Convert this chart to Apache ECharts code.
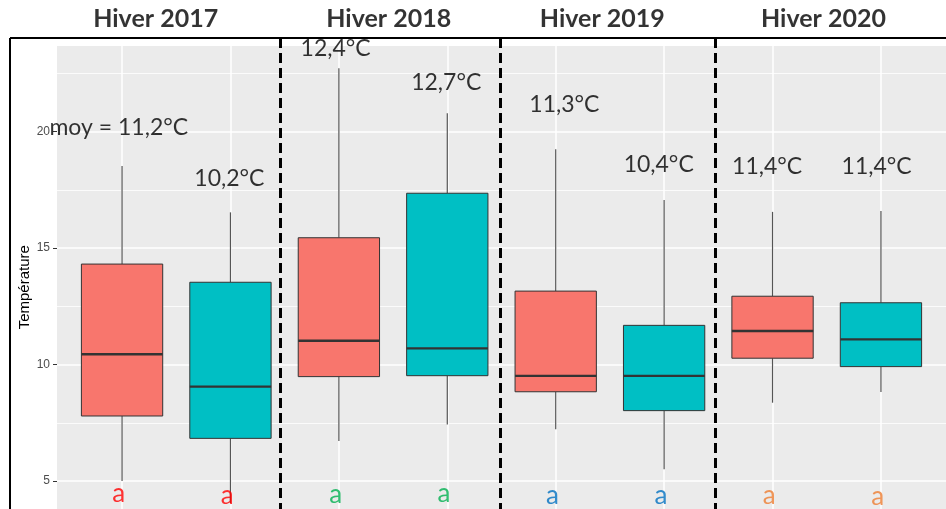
<!DOCTYPE html>
<html>
<head>
<meta charset="utf-8">
<script src="https://cdn.jsdelivr.net/npm/echarts@6/dist/echarts.min.js"></script>
<style>
html, body { margin: 0; padding: 0; background: #fff; overflow: hidden; }
#main { width: 946px; height: 600px; }
</style>
</head>
<body>
<div id="main"></div>
<script>
// deux boîtes par hiver (groupe 0 = saumon, groupe 1 = turquoise)
var categories = ['2017 A', '2017 B', '2018 A', '2018 B', '2019 A', '2019 B', '2020 A', '2020 B'];
var groups = [0, 1, 0, 1, 0, 1, 0, 1];
var mins = [5.0, 4.05, 6.72, 7.43, 7.22, 5.50, 8.36, 8.82];
var q1s = [7.79, 6.83, 9.48, 9.52, 8.83, 8.02, 10.27, 9.91];
var medians = [10.44, 9.05, 11.02, 10.69, 9.51, 9.51, 11.44, 11.08];
var q3s = [14.31, 13.53, 15.44, 17.35, 13.15, 11.68, 12.93, 12.65];
var maxs = [18.52, 16.53, 22.71, 20.78, 19.24, 17.06, 16.55, 16.59];

var yTicks = [5, 10, 15, 20];

// titres des hivers
var winters = ['Hiver 2017', 'Hiver 2018', 'Hiver 2019', 'Hiver 2020'];
var winterX = [0.31, 2.46, 4.43, 6.47];
var winterY = 24.83;

// moyennes écrites au-dessus des boîtes
var meanTexts = ['moy = 11,2°C', '10,2°C', '12,4°C', '12,7°C', '11,3°C', '10,4°C', '11,4°C', '11,4°C'];
var meanX = [-0.03, 0.99, 1.97, 2.99, 4.08, 4.95, 5.95, 6.96];
var meanY = [20.15, 18.0, 23.54, 22.08, 21.14, 18.56, 18.48, 18.48];

// lettres de groupes statistiques
var letters = ['a', 'a', 'a', 'a', 'a', 'a', 'a', 'a'];
var letterY = [4.48, 4.36, 4.40, 4.48, 4.36, 4.36, 4.36, 4.31];

// séparations entre hivers
var separators = [1.46, 3.49, 5.47];

var boxFills = ['#F8766D', '#00BFC4'];
var letterColors = ['#FF0000', '#00B050', '#0070C0', '#ED7D31'];
var panelTop = 23.67;
var frameTop = 24.01;

var chart = echarts.init(document.getElementById('main'));

var boxData = categories.map(function (c, i) {
  return [i, mins[i], q1s[i], medians[i], q3s[i], maxs[i], groups[i]];
});

function renderBox(params, api) {
  var x = api.value(0);
  var lo = api.coord([x, api.value(1)]);
  var q1 = api.coord([x, api.value(2)]);
  var med = api.coord([x, api.value(3)]);
  var q3 = api.coord([x, api.value(4)]);
  var hi = api.coord([x, api.value(5)]);
  var w = api.size([1, 0])[0] * 0.75;
  var cx = lo[0];
  return {
    type: 'group',
    children: [
      { type: 'line', shape: { x1: cx, y1: hi[1], x2: cx, y2: q3[1] }, style: { stroke: '#555', lineWidth: 1.2 } },
      { type: 'line', shape: { x1: cx, y1: q1[1], x2: cx, y2: lo[1] }, style: { stroke: '#555', lineWidth: 1.2 } },
      { type: 'rect', shape: { x: cx - w / 2, y: q3[1], width: w, height: q1[1] - q3[1] },
        style: { fill: boxFills[api.value(6)], stroke: '#333', lineWidth: 1 } },
      { type: 'line', shape: { x1: cx - w / 2, y1: med[1], x2: cx + w / 2, y2: med[1] },
        style: { stroke: '#333', lineWidth: 2.4 } }
    ]
  };
}

var textData = [];
winters.forEach(function (t, i) {
  textData.push({ name: t, value: [winterX[i], winterY],
    label: { fontSize: 25, fontWeight: 'bold', color: '#000' } });
});
meanTexts.forEach(function (t, i) {
  textData.push({ name: t, value: [meanX[i], meanY[i]],
    label: { fontSize: 23, color: '#000' } });
});
letters.forEach(function (t, i) {
  textData.push({ name: t, value: [i - 0.03, letterY[i]],
    label: { fontSize: 26, color: letterColors[Math.floor(i / 2)] } });
});

var option = {
  animation: false,
  grid: { left: 57, right: 0, top: 15, bottom: 2.5 },
  xAxis: { type: 'value', min: -0.6, max: 7.6, show: false },
  yAxis: {
    type: 'value', min: 0, max: 25, interval: 5,
    name: 'Température', nameLocation: 'middle', nameGap: 25, nameMoveOverlap: false,
    nameTextStyle: { fontFamily: 'Liberation Sans', fontSize: 15, color: '#000', padding: [0, 0, 0, 38] },
    axisLine: { show: false, onZero: false },
    axisTick: { show: true, length: 4, customValues: yTicks, lineStyle: { color: '#333' } },
    axisLabel: { customValues: yTicks, color: '#4D4D4D', fontSize: 12, margin: 7, fontFamily: 'Liberation Sans' },
    splitLine: { lineStyle: { color: '#fff', width: 1.5 } },
    minorTick: { show: false, splitNumber: 2 },
    minorSplitLine: { show: true, lineStyle: { color: '#fff', width: 0.8 } }
  },
  series: [
    {
      type: 'line', data: [], silent: true,
      markArea: {
        z: -1, silent: true,
        itemStyle: { color: '#EBEBEB' },
        data: [[{ coord: [-0.6, panelTop] }, { coord: [7.6, 0] }]]
      },
      markLine: {
        z: 1, silent: true, symbol: 'none', label: { show: false },
        lineStyle: { color: '#fff', width: 1.5, type: 'solid' },
        data: categories.map(function (c, i) {
          return [{ coord: [i, panelTop] }, { coord: [i, 0] }];
        })
      }
    },
    {
      type: 'custom', z: 2, renderItem: renderBox,
      encode: { x: 0, y: [1, 2, 3, 4, 5] },
      data: boxData
    },
    {
      type: 'line', data: [], silent: true,
      markLine: {
        z: 5, silent: true, symbol: 'none', label: { show: false },
        lineStyle: { color: '#000', width: 3, type: [10, 5] },
        data: separators.map(function (s) {
          return [{ coord: [s, frameTop] }, { coord: [s, 0] }];
        })
      }
    },
    {
      type: 'scatter', z: 6, clip: false, symbolSize: 0, silent: true,
      label: {
        show: true, position: 'inside', formatter: '{b}',
        fontFamily: 'Lato', align: 'center', verticalAlign: 'middle'
      },
      data: textData
    }
  ],
  graphic: [
    { type: 'line', z: 20, shape: { x1: 10, y1: 38, x2: 946, y2: 38 }, style: { stroke: '#000', lineWidth: 2 } },
    { type: 'line', z: 20, shape: { x1: 10, y1: 38, x2: 10, y2: 600 }, style: { stroke: '#000', lineWidth: 2 } }
  ]
};

chart.setOption(option);
</script>
</body>
</html>
